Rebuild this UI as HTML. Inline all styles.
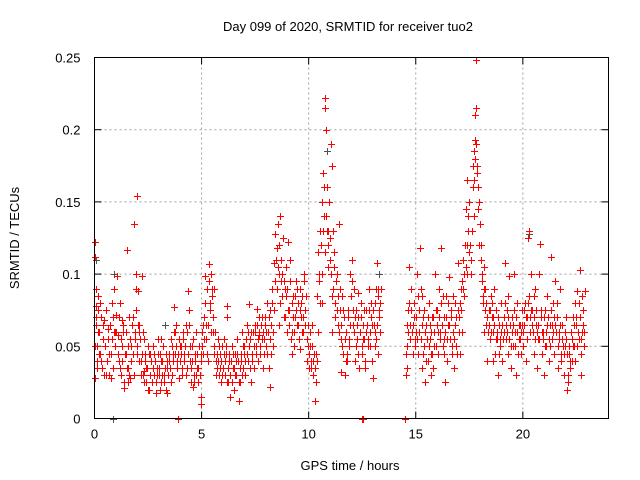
<!DOCTYPE html>
<html><head><meta charset="utf-8">
<style>
html,body{margin:0;padding:0;background:#fff;}
svg{display:block;font-family:"Liberation Sans",sans-serif;}
</style></head>
<body>
<svg id="chart" width="640" height="480" viewBox="0 0 640 480" xmlns="http://www.w3.org/2000/svg">
<rect width="640" height="480" fill="#fff"/>
<text x="348" y="31" font-size="13" text-anchor="middle">Day 099 of 2020, SRMTID for receiver tuo2</text>
<text transform="translate(19,238) rotate(-90)" font-size="13" text-anchor="middle">SRMTID / TECUs</text>
<text x="350" y="470" font-size="13" text-anchor="middle">GPS time / hours</text>
<g id="grid"></g>
<g id="ticks"></g>
<g id="gray"></g>
<g id="red"></g>
<rect x="94.5" y="57.5" width="514" height="361" fill="none" stroke="#000" stroke-width="1"/>
</svg>
<script>
const xTicks=[0,5,10,15,20];
const yTicks=[0,0.05,0.1,0.15,0.2,0.25];
const yTickLabels=["0","0.05","0.1","0.15","0.2","0.25"];
const redTimes=[
0.02,0.04,0.06,0.05,0.1,0.12,0.15,0.2,0.25,0.3,0.35,0.4,0.45,0.5,0.55,0.6,0.65,0.7,0.75,0.8,0.85,0.9,0.95,0.03,0.18,0.08,
1.0,1.05,1.1,1.15,1.2,1.25,1.3,1.35,1.4,1.45,1.5,1.55,1.6,1.65,1.7,1.75,1.8,1.85,1.9,1.95,1.98,1.92,1.3,1.55,
2.0,2.05,2.1,2.15,2.2,2.25,2.3,2.35,2.4,2.45,2.5,2.55,2.6,2.65,2.7,2.75,2.8,2.85,2.9,2.95,2.1,2.3,2.6,
3.0,3.05,3.1,3.15,3.2,3.25,3.3,3.35,3.4,3.45,3.5,3.55,3.6,3.65,3.7,3.75,3.8,3.85,3.9,3.95,3.1,3.4,
4.0,4.05,4.1,4.15,4.2,4.25,4.3,4.35,4.4,4.45,4.5,4.55,4.6,4.65,4.7,4.75,4.8,4.85,4.9,4.95,4.97,4.98,4.6,
5.0,5.05,5.1,5.15,5.2,5.25,5.3,5.35,5.4,5.45,5.5,5.55,5.6,5.65,5.7,5.75,5.8,5.85,5.9,5.95,5.3,5.6,
6.0,6.05,6.1,6.15,6.2,6.25,6.3,6.35,6.4,6.45,6.5,6.55,6.6,6.65,6.7,6.75,6.8,6.85,6.9,6.95,6.2,
7.0,7.05,7.1,7.15,7.2,7.25,7.3,7.35,7.4,7.45,7.5,7.55,7.6,7.65,7.7,7.75,7.8,7.85,7.9,7.95,7.3,7.7,
8.0,8.05,8.1,8.15,8.2,8.25,8.3,8.35,8.4,8.45,8.5,8.55,8.6,8.65,8.7,8.75,8.8,8.85,8.9,8.95,8.2,8.6,
9.0,9.05,9.1,9.15,9.2,9.25,9.3,9.35,9.4,9.45,9.5,9.55,9.6,9.65,9.7,9.75,9.8,9.85,9.9,9.95,9.2,9.6,
10.0,10.05,10.1,10.15,10.2,10.25,10.3,10.35,10.4,10.45,10.5,10.55,10.6,10.65,10.7,10.75,10.78,10.8,10.85,10.9,10.95,10.6,10.9,
11.0,11.05,11.1,11.15,11.2,11.25,11.3,11.35,11.4,11.45,11.5,11.55,11.6,11.65,11.7,11.75,11.8,11.85,11.9,11.95,11.1,11.5,
12.0,12.05,12.1,12.15,12.2,12.25,12.3,12.35,12.4,12.45,12.5,12.55,12.6,12.65,12.7,12.75,12.8,12.85,12.9,12.95,12.3,
13.0,13.05,13.1,13.15,13.2,13.25,13.3,13.35,13.1,13.25,
14.55,14.6,14.65,14.7,14.75,14.8,14.85,14.9,14.95,14.6,
15.0,15.05,15.1,15.15,15.2,15.25,15.3,15.35,15.4,15.45,15.5,15.55,15.6,15.65,15.7,15.75,15.8,15.85,15.9,15.95,15.3,15.7,
16.0,16.05,16.1,16.15,16.2,16.25,16.3,16.35,16.4,16.45,16.5,16.55,16.6,16.65,16.7,16.75,16.8,16.85,16.9,16.95,16.3,
17.0,17.05,17.1,17.15,17.2,17.25,17.3,17.35,17.4,17.45,17.5,17.55,17.6,17.65,17.7,17.75,17.78,17.8,17.82,17.85,17.9,17.95,17.4,17.7,
18.0,18.05,18.1,18.15,18.2,18.25,18.3,18.35,18.4,18.45,18.5,18.55,18.6,18.65,18.7,18.75,18.8,18.85,18.9,18.95,18.2,18.6,
19.0,19.05,19.1,19.15,19.2,19.25,19.3,19.35,19.4,19.45,19.5,19.55,19.6,19.65,19.7,19.75,19.8,19.85,19.9,19.95,19.3,
20.0,20.05,20.1,20.15,20.2,20.25,20.3,20.35,20.4,20.45,20.5,20.55,20.6,20.65,20.7,20.75,20.8,20.85,20.9,20.95,20.5,
21.0,21.05,21.1,21.15,21.2,21.25,21.3,21.35,21.4,21.45,21.5,21.55,21.6,21.65,21.7,21.75,21.8,21.85,21.9,21.95,21.4,
22.0,22.05,22.1,22.15,22.2,22.25,22.3,22.35,22.4,22.45,22.5,22.55,22.6,22.65,22.7,22.75,22.8,22.85,22.9,22.7,
3.88,3.9,3.92,12.48,12.5,12.52,14.48,14.5,14.52
];
const redValues=[
0.122,0.112,0.09,0.065,0.05,0.04,0.075,0.06,0.045,0.07,0.035,0.055,0.068,0.05,0.03,0.04,0.062,0.045,0.028,0.055,0.07,0.09,0.06,0.028,0.085,0.078,
0.072,0.099,0.058,0.04,0.08,0.03,0.05,0.06,0.021,0.045,0.117,0.035,0.07,0.028,0.05,0.065,0.045,0.135,0.055,0.1,0.154,0.075,0.068,0.025,
0.05,0.088,0.065,0.04,0.099,0.03,0.055,0.045,0.025,0.035,0.05,0.02,0.03,0.04,0.025,0.035,0.045,0.018,0.03,0.055,0.06,0.033,0.045,
0.035,0.02,0.04,0.03,0.05,0.025,0.035,0.045,0.018,0.03,0.04,0.055,0.03,0.045,0.077,0.06,0.05,0.035,0.045,0.028,0.055,0.035,
0.04,0.05,0.03,0.06,0.045,0.065,0.035,0.088,0.075,0.05,0.025,0.04,0.055,0.03,0.045,0.06,0.035,0.025,0.05,0.04,0.015,0.01,0.022,
0.06,0.045,0.07,0.099,0.055,0.09,0.065,0.107,0.075,0.1,0.085,0.06,0.05,0.04,0.035,0.055,0.03,0.045,0.025,0.05,0.04,0.09,
0.035,0.055,0.03,0.045,0.078,0.025,0.04,0.015,0.05,0.035,0.02,0.045,0.03,0.055,0.04,0.012,0.025,0.045,0.06,0.035,0.07,
0.05,0.03,0.065,0.04,0.079,0.055,0.025,0.045,0.06,0.035,0.065,0.05,0.076,0.04,0.06,0.045,0.07,0.035,0.055,0.065,0.06,0.058,
0.05,0.08,0.06,0.035,0.075,0.045,0.09,0.06,0.108,0.128,0.118,0.135,0.1,0.14,0.11,0.085,0.125,0.095,0.07,0.105,0.022,0.065,
0.09,0.122,0.075,0.11,0.06,0.085,0.05,0.07,0.095,0.065,0.08,0.055,0.09,0.07,0.085,0.06,0.1,0.075,0.04,0.065,0.045,0.048,
0.035,0.05,0.04,0.065,0.03,0.045,0.012,0.025,0.085,0.115,0.095,0.13,0.15,0.17,0.14,0.222,0.215,0.2,0.16,0.13,0.15,0.08,0.105,
0.125,0.19,0.175,0.09,0.115,0.08,0.1,0.065,0.135,0.075,0.055,0.085,0.045,0.07,0.03,0.06,0.04,0.075,0.05,0.1,0.06,0.032,
0.11,0.065,0.09,0.04,0.075,0.055,0.07,0.035,0.06,0.08,0.045,0.065,0.055,0.035,0.075,0.05,0.09,0.06,0.07,0.04,0.087,
0.028,0.065,0.08,0.055,0.108,0.09,0.07,0.08,0.05,0.045,
0.03,0.05,0.075,0.105,0.065,0.09,0.045,0.07,0.055,0.035,
0.06,0.1,0.045,0.075,0.118,0.055,0.035,0.07,0.05,0.025,0.065,0.04,0.08,0.055,0.045,0.07,0.035,0.06,0.1,0.05,0.085,0.03,
0.075,0.045,0.09,0.06,0.118,0.05,0.07,0.025,0.085,0.04,0.065,0.098,0.055,0.075,0.045,0.06,0.035,0.08,0.05,0.108,0.055,
0.07,0.045,0.09,0.06,0.11,0.085,0.12,0.145,0.165,0.13,0.15,0.12,0.1,0.175,0.185,0.21,0.193,0.248,0.215,0.17,0.16,0.15,0.1,0.14,
0.135,0.12,0.1,0.08,0.105,0.09,0.065,0.04,0.075,0.055,0.085,0.07,0.06,0.09,0.045,0.075,0.055,0.03,0.065,0.05,0.06,0.04,
0.08,0.04,0.06,0.108,0.055,0.075,0.045,0.099,0.065,0.035,0.07,0.05,0.1,0.06,0.03,0.08,0.055,0.065,0.045,0.075,0.085,
0.05,0.065,0.08,0.04,0.07,0.125,0.13,0.06,0.1,0.075,0.045,0.09,0.065,0.035,0.055,0.1,0.121,0.07,0.045,0.06,0.085,
0.03,0.075,0.05,0.085,0.04,0.065,0.112,0.055,0.08,0.045,0.095,0.06,0.07,0.035,0.055,0.09,0.045,0.065,0.03,0.05,0.06,
0.07,0.02,0.025,0.045,0.035,0.06,0.04,0.07,0.05,0.08,0.065,0.088,0.055,0.103,0.03,0.06,0.075,0.05,0.088,0.045,
0,0,0,0,0,0,0,0,0
];
const redTimes2=[
0.025,0.075,0.125,0.175,0.225,0.275,0.325,0.375,0.425,0.475,0.525,0.575,0.625,0.675,0.725,0.775,0.825,0.875,0.925,0.975,
1.025,1.075,1.125,1.175,1.225,1.275,1.325,1.375,1.425,1.475,1.525,1.575,1.625,1.675,1.725,1.775,1.825,1.875,1.925,1.975,
2.025,2.075,2.125,2.175,2.225,2.275,2.325,2.375,2.425,2.475,2.525,2.575,2.625,2.675,2.725,2.775,2.825,2.875,2.925,2.975,
3.025,3.075,3.125,3.175,3.225,3.275,3.325,3.375,3.425,3.475,3.525,3.575,3.625,3.675,3.725,3.775,3.825,3.875,3.925,3.975,
4.025,4.075,4.125,4.175,4.225,4.275,4.325,4.375,4.425,4.475,4.525,4.575,4.625,4.675,4.725,4.775,4.825,4.875,4.925,4.975,
5.025,5.075,5.125,5.175,5.225,5.275,5.325,5.375,5.425,5.475,5.525,5.575,5.625,5.675,5.725,5.775,5.825,5.875,5.925,5.975,
6.025,6.075,6.125,6.175,6.225,6.275,6.325,6.375,6.425,6.475,6.525,6.575,6.625,6.675,6.725,6.775,6.825,6.875,6.925,6.975,
7.025,7.075,7.125,7.175,7.225,7.275,7.325,7.375,7.425,7.475,7.525,7.575,7.625,7.675,7.725,7.775,7.825,7.875,7.925,7.975,
8.025,8.075,8.125,8.175,8.225,8.275,8.325,8.375,8.425,8.475,8.525,8.575,8.625,8.675,8.725,8.775,8.825,8.875,8.925,8.975,
9.025,9.075,9.125,9.175,9.225,9.275,9.325,9.375,9.425,9.475,9.525,9.575,9.625,9.675,9.725,9.775,9.825,9.875,9.925,9.975,
10.025,10.075,10.125,10.175,10.225,10.275,10.325,10.375,10.425,10.475,10.525,10.575,10.625,10.675,10.725,10.775,10.825,10.875,10.925,10.975,
11.025,11.075,11.125,11.175,11.225,11.275,11.325,11.375,11.425,11.475,11.525,11.575,11.625,11.675,11.725,11.775,11.825,11.875,11.925,11.975,
12.025,12.075,12.125,12.175,12.225,12.275,12.325,12.375,12.425,12.475,12.525,12.575,12.625,12.675,12.725,12.775,12.825,12.875,12.925,12.975,
13.025,13.075,13.125,13.175,13.225,13.275,13.325,13.375,
14.525,14.575,14.625,14.675,14.725,14.775,14.825,14.875,14.925,14.975,
15.025,15.075,15.125,15.175,15.225,15.275,15.325,15.375,15.425,15.475,15.525,15.575,15.625,15.675,15.725,15.775,15.825,15.875,15.925,15.975,
16.025,16.075,16.125,16.175,16.225,16.275,16.325,16.375,16.425,16.475,16.525,16.575,16.625,16.675,16.725,16.775,16.825,16.875,16.925,16.975,
17.025,17.075,17.125,17.175,17.225,17.275,17.325,17.375,17.425,17.475,17.525,17.575,17.625,17.675,17.725,17.775,17.825,17.875,17.925,17.975,
18.025,18.075,18.125,18.175,18.225,18.275,18.325,18.375,18.425,18.475,18.525,18.575,18.625,18.675,18.725,18.775,18.825,18.875,18.925,18.975,
19.025,19.075,19.125,19.175,19.225,19.275,19.325,19.375,19.425,19.475,19.525,19.575,19.625,19.675,19.725,19.775,19.825,19.875,19.925,19.975,
20.025,20.075,20.125,20.175,20.225,20.275,20.325,20.375,20.425,20.475,20.525,20.575,20.625,20.675,20.725,20.775,20.825,20.875,20.925,20.975,
21.025,21.075,21.125,21.175,21.225,21.275,21.325,21.375,21.425,21.475,21.525,21.575,21.625,21.675,21.725,21.775,21.825,21.875,21.925,21.975,
22.025,22.075,22.125,22.175,22.225,22.275,22.325,22.375,22.425,22.475,22.525,22.575,22.625,22.675,22.725,22.775,22.825,22.875
];
const redValues2=[
0.05,0.07,0.035,0.06,0.045,0.08,0.04,0.065,0.03,0.05,0.075,0.04,0.055,0.03,0.065,0.045,0.08,0.035,0.06,0.05,
0.06,0.045,0.07,0.035,0.055,0.04,0.065,0.025,0.045,0.06,0.035,0.05,0.03,0.055,0.04,0.07,0.03,0.06,0.09,0.045,
0.065,0.04,0.055,0.03,0.045,0.06,0.025,0.04,0.035,0.02,0.045,0.03,0.04,0.025,0.05,0.03,0.04,0.025,0.035,0.045,
0.03,0.045,0.025,0.04,0.03,0.035,0.02,0.04,0.03,0.045,0.035,0.025,0.05,0.04,0.06,0.045,0.065,0.04,0.055,0.05,
0.045,0.035,0.055,0.04,0.05,0.03,0.06,0.045,0.065,0.04,0.035,0.05,0.025,0.04,0.03,0.045,0.035,0.05,0.03,0.045,
0.05,0.065,0.055,0.08,0.065,0.045,0.095,0.08,0.06,0.09,0.07,0.045,0.06,0.03,0.045,0.04,0.05,0.035,0.04,0.03,
0.045,0.04,0.05,0.025,0.035,0.045,0.03,0.04,0.025,0.045,0.035,0.03,0.04,0.045,0.025,0.035,0.04,0.03,0.05,0.045,
0.04,0.055,0.045,0.06,0.05,0.035,0.06,0.04,0.05,0.06,0.045,0.065,0.055,0.07,0.05,0.065,0.055,0.06,0.045,0.07,
0.06,0.045,0.07,0.055,0.065,0.08,0.05,0.075,0.095,0.11,0.09,0.105,0.12,0.08,0.095,0.1,0.07,0.09,0.085,0.06,
0.075,0.065,0.095,0.055,0.08,0.07,0.06,0.085,0.075,0.09,0.065,0.075,0.08,0.06,0.07,0.095,0.065,0.085,0.055,0.05,
0.045,0.06,0.035,0.05,0.04,0.035,0.045,0.04,0.06,0.1,0.08,0.12,0.1,0.13,0.16,0.115,0.14,0.13,0.12,0.11,
0.1,0.085,0.13,0.105,0.07,0.095,0.075,0.085,0.06,0.09,0.065,0.05,0.075,0.055,0.04,0.045,0.07,0.055,0.065,0.085,
0.095,0.075,0.06,0.07,0.05,0.065,0.045,0.06,0.07,0.05,0.055,0.075,0.04,0.06,0.065,0.055,0.075,0.05,0.08,0.065,
0.075,0.06,0.09,0.065,0.085,0.075,0.06,0.09,
0.045,0.065,0.06,0.08,0.055,0.075,0.06,0.065,0.08,0.05,
0.07,0.055,0.085,0.06,0.09,0.065,0.045,0.075,0.06,0.04,0.055,0.07,0.05,0.065,0.06,0.045,0.07,0.05,0.075,0.065,
0.06,0.07,0.055,0.08,0.065,0.085,0.045,0.06,0.07,0.055,0.08,0.065,0.07,0.05,0.085,0.055,0.065,0.07,0.045,0.075,
0.06,0.08,0.075,0.095,0.09,0.1,0.105,0.12,0.14,0.115,0.12,0.11,0.13,0.16,0.165,0.18,0.19,0.175,0.145,0.12,
0.11,0.095,0.085,0.09,0.075,0.08,0.07,0.06,0.065,0.075,0.06,0.08,0.07,0.065,0.055,0.06,0.07,0.045,0.055,0.06,
0.065,0.055,0.07,0.08,0.065,0.06,0.07,0.055,0.05,0.06,0.065,0.075,0.05,0.07,0.06,0.045,0.065,0.055,0.06,0.065,
0.06,0.075,0.07,0.055,0.08,0.085,0.07,0.075,0.065,0.06,0.07,0.055,0.075,0.06,0.065,0.055,0.075,0.06,0.055,0.07,
0.05,0.06,0.065,0.07,0.055,0.05,0.075,0.065,0.06,0.07,0.065,0.08,0.05,0.06,0.065,0.04,0.055,0.05,0.045,0.06,
0.055,0.045,0.03,0.05,0.04,0.055,0.05,0.065,0.04,0.07,0.05,0.06,0.08,0.07,0.055,0.085,0.065,0.06
];
const grayTimes=[0.05,0.2,0.85,0.87,1.85,10.75,10.8,10.85,17.8,20.3,22.65,0.9,3.3,13.3,18.9];
const grayValues=[0.11,0.06,0,0,0.135,0.222,0.2,0.185,0.248,0.128,0.103,0.1,0.065,0.1,0.045];

const L=94.5,R=608.5,T=57.5,B=418.5;
const xMax=24,yMax=0.25;
const xs=t=>L+(t/xMax)*(R-L);
const ys=v=>B-(v/yMax)*(B-T);
const NS="http://www.w3.org/2000/svg";
function mk(tag,attrs,parent){const e=document.createElementNS(NS,tag);for(const k in attrs)e.setAttribute(k,attrs[k]);parent.appendChild(e);return e;}
const grid=document.getElementById('grid'),ticks=document.getElementById('ticks');
xTicks.forEach(t=>{
  const x=xs(t);
  if(t>0){const g=mk('line',{x1:x,x2:x,y1:T,y2:B,stroke:'#a0a0a0','stroke-dasharray':'2,3'},grid);
  
  }
  mk('line',{x1:x,x2:x,y1:B,y2:B-7,stroke:'#000'},ticks);
  mk('line',{x1:x,x2:x,y1:T,y2:T+7,stroke:'#000'},ticks);
  const lb=mk('text',{x:x,y:B+20,'font-size':13,'text-anchor':'middle'},ticks);
  lb.textContent=String(t);
  
  
});
yTicks.forEach((v,i)=>{
  const y=ys(v);
  if(v>0&&v<yMax){const g=mk('line',{x1:L,x2:R,y1:y,y2:y,stroke:'#a0a0a0','stroke-dasharray':'2,3'},grid);
  
  }
  mk('line',{x1:L,x2:L+7,y1:y,y2:y,stroke:'#000'},ticks);
  mk('line',{x1:R,x2:R-7,y1:y,y2:y,stroke:'#000'},ticks);
  const lb=mk('text',{x:L-14,y:y+5,'font-size':13,'text-anchor':'end'},ticks);
  lb.textContent=yTickLabels[i];
  
  
});
function plus(g,t,v,color){
  const x=Math.round(xs(t))+0.5,y=Math.round(ys(v))+0.5;
  const p=mk('path',{d:`M${x-3.5},${y}H${x+3.5}M${x},${y-3.5}V${y+3.5}`,stroke:color,'stroke-width':1,fill:'none'},g);
  
  
}
const gg=document.getElementById('gray'),rg=document.getElementById('red');
grayTimes.forEach((t,i)=>plus(gg,t,grayValues[i],'#505050'));
redTimes.forEach((t,i)=>plus(rg,t,redValues[i],'#ff0000'));
redTimes2.forEach((t,i)=>plus(rg,t,redValues2[i],'#ff0000'));
</script>
</body></html>
